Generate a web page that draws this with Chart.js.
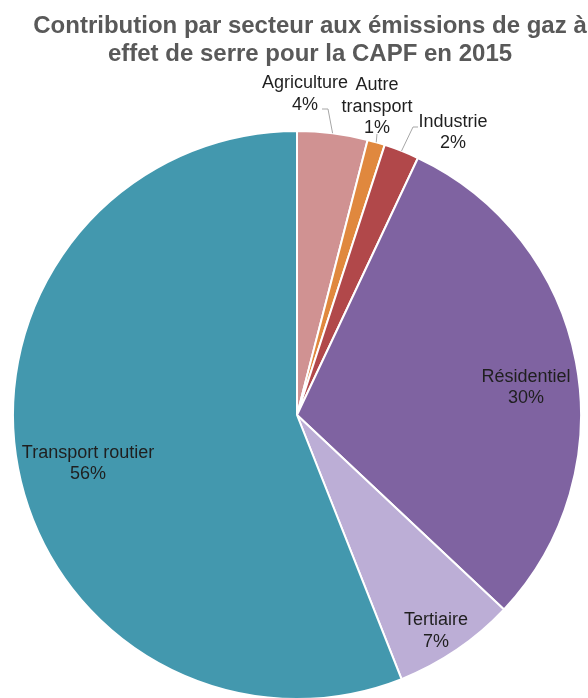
<!DOCTYPE html>
<html>
<head>
<meta charset="utf-8">
<script src="https://cdn.jsdelivr.net/npm/chart.js@4"></script>
<style>
    html, body { margin: 0; padding: 0; background: #fff; overflow: hidden; }
    #wrap { position: relative; width: 588px; height: 710px; }
</style>
</head>
<body>
<div id="wrap"><canvas id="myChart"></canvas></div>
<script>
const titleLines = [
    "Contribution par secteur aux émissions de gaz à",
    "effet de serre pour la CAPF en 2015",
];
const sectors = [
    ["Agriculture"],
    ["Autre", "transport"],
    ["Industrie"],
    ["Résidentiel"],
    ["Tertiaire"],
    ["Transport routier"],
];
const shares = [4, 1, 2, 30, 7, 56];

const colors = ["#d09292", "#e0883e", "#b1484a", "#7f63a1", "#bcaed6", "#4398ae"];

// label block centre, offset from the pie centre
const labelOffsets = [
    [8, -322.75],
    [80, -310],
    [156, -284],
    [229, -29],
    [139, 214.25],
    [-209, 47],
];
// leader lines for the small slices (last point goes to the slice edge)
const leaders = [
    [[25, -306], [31, -306]],
    [[80, -281]],
    [[121, -288], [116, -288]],
    null,
    null,
    null,
];

const titlePlugin = {
    id: "titleText",
    afterDraw(chart) {
        const ctx = chart.ctx;
        ctx.save();
        ctx.font = "bold 24px 'Liberation Sans', Arial, sans-serif";
        ctx.fillStyle = "#595959";
        ctx.textAlign = "center";
        ctx.textBaseline = "alphabetic";
        ctx.fillText(titleLines[0], 310, 33);
        ctx.fillText(titleLines[1], 310, 61);
        ctx.restore();
    },
};

const sliceLabels = {
    id: "sliceLabels",
    afterDatasetsDraw(chart) {
        const ctx = chart.ctx;
        const arcs = chart.getDatasetMeta(0).data;
        const lineH = 21.5;
        ctx.save();
        arcs.forEach((arc, i) => {
            const p = arc.getProps(["x", "y", "startAngle", "endAngle", "outerRadius"], true);
            const mid = (p.startAngle + p.endAngle) / 2;

            if (leaders[i]) {
                ctx.beginPath();
                ctx.strokeStyle = "#a6a6a6";
                ctx.lineWidth = 1;
                leaders[i].forEach((pt, k) => {
                    if (k === 0) ctx.moveTo(p.x + pt[0], p.y + pt[1]);
                    else ctx.lineTo(p.x + pt[0], p.y + pt[1]);
                });
                ctx.lineTo(p.x + Math.cos(mid) * p.outerRadius, p.y + Math.sin(mid) * p.outerRadius);
                ctx.stroke();
            }

            const lines = sectors[i].concat(shares[i] + "%");
            const cx = p.x + labelOffsets[i][0];
            const top = p.y + labelOffsets[i][1] - ((lines.length - 1) * lineH) / 2;
            ctx.font = "18px 'Liberation Sans', Arial, sans-serif";
            ctx.fillStyle = "#1f1f1f";
            ctx.textAlign = "center";
            ctx.textBaseline = "alphabetic";
            lines.forEach((t, k) => ctx.fillText(t, cx, top + k * lineH + 6.5));
        });
        ctx.restore();
    },
};

new Chart(document.querySelector("#myChart"), {
    type: "pie",
    data: {
        labels: sectors.map((s) => s.join(" ")),
        datasets: [
            {
                data: shares,
                backgroundColor: colors,
                borderColor: "#ffffff",
                borderWidth: 2,
            },
        ],
    },
    options: {
        responsive: true,
        maintainAspectRatio: false,
        animation: false,
        layout: {
            padding: { top: 130, left: 12, right: 6, bottom: 10 },
        },
        plugins: {
            legend: { display: false },
            tooltip: { enabled: false },
            title: { display: false },
        },
    },
    plugins: [sliceLabels, titlePlugin],
});
</script>
</body>
</html>
